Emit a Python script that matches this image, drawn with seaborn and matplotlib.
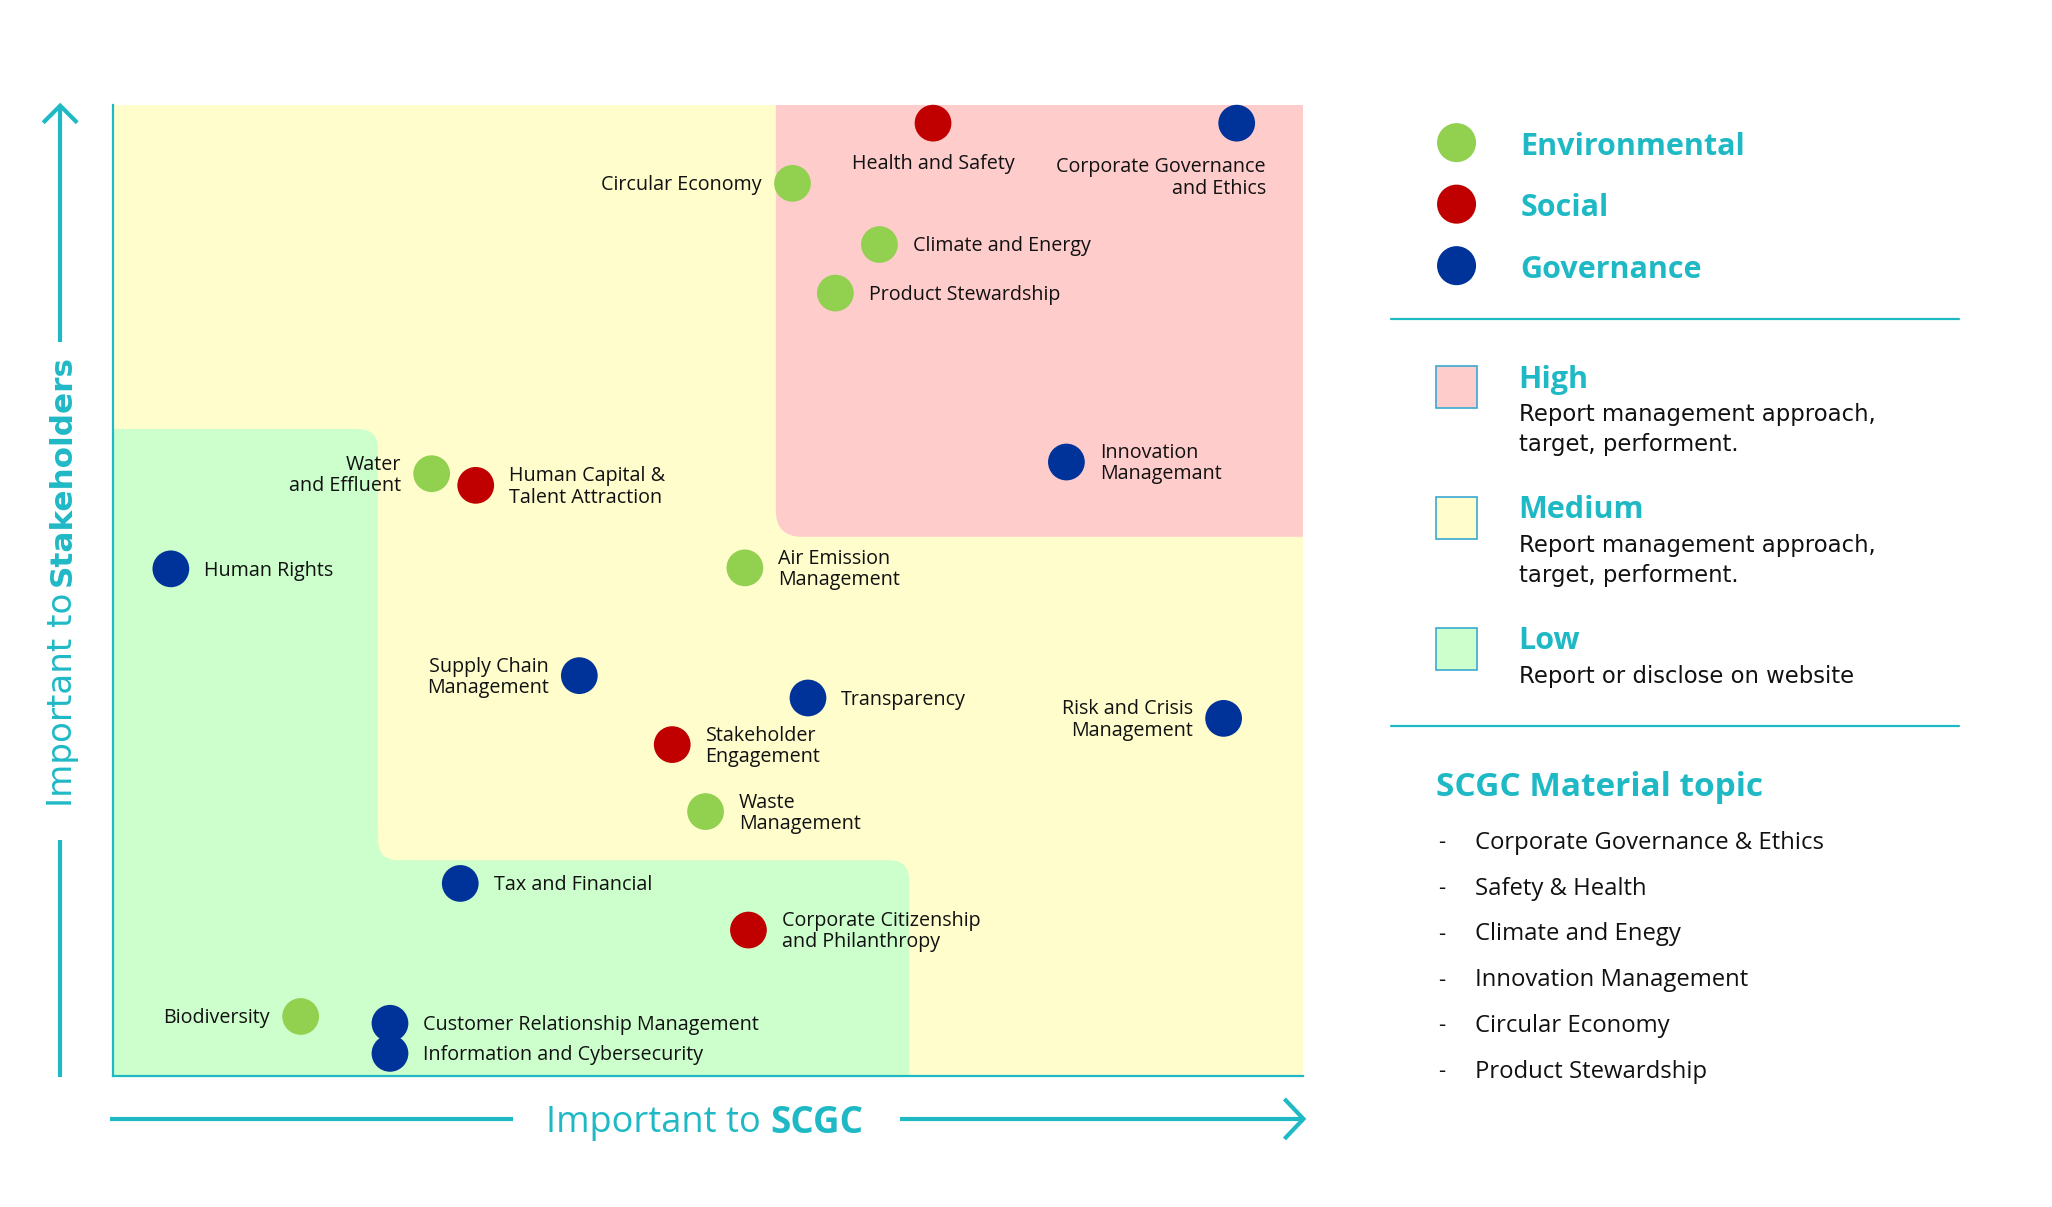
import matplotlib
matplotlib.use("Agg")
import matplotlib.pyplot as plt
from matplotlib.patches import FancyBboxPatch, Rectangle
import seaborn as sns
import pandas as pd

# ---------------- data ----------------
topics = ["Health and Safety", "Corporate Governance\nand Ethics", "Circular Economy",
          "Climate and Energy", "Product Stewardship", "Innovation\nManagemant",
          "Water\nand Effluent", "Human Capital &\nTalent Attraction", "Human Rights",
          "Air Emission\nManagement", "Supply Chain\nManagement", "Transparency",
          "Risk and Crisis\nManagement", "Stakeholder\nEngagement", "Waste\nManagement",
          "Tax and Financial", "Corporate Citizenship\nand Philanthropy", "Biodiversity",
          "Customer Relationship Management", "Information and Cybersecurity"]
pillar = ["Social", "Governance", "Environmental", "Environmental", "Environmental",
          "Governance", "Environmental", "Social", "Governance", "Environmental",
          "Governance", "Governance", "Governance", "Social", "Environmental",
          "Governance", "Social", "Environmental", "Governance", "Governance"]
importance_scgc = [6.89, 9.44, 5.71, 6.44, 6.07, 8.01, 2.68, 3.05, 0.49, 5.31,
                   3.92, 5.84, 9.33, 4.70, 4.98, 2.92, 5.34, 1.58, 2.33, 2.33]
importance_stakeholders = [9.81, 9.81, 9.19, 8.56, 8.06, 6.32, 6.20, 6.08, 5.22, 5.23,
                           4.12, 3.89, 3.68, 3.41, 2.72, 1.98, 1.50, 0.61, 0.54, 0.23]

pillars = ["Environmental", "Social", "Governance"]
levels = ["High", "Medium", "Low"]
level_desc = ["Report management approach,\ntarget, performent.",
              "Report management approach,\ntarget, performent.",
              "Report or disclose on website"]
material_title = "SCGC Material topic"
material_topics = ["Corporate Governance & Ethics", "Safety & Health", "Climate and Enegy",
                   "Innovation Management", "Circular Economy", "Product Stewardship"]

# materiality thresholds (in axis units 0-10)
high_x, high_y = 5.57, 5.55
low_a_x, low_a_y = 2.23, 6.66
low_b_x, low_b_y = 6.69, 2.22

# ---------------- style ----------------
label_side = {"Health and Safety": "below", "Corporate Governance\nand Ethics": "belowleft",
              "Circular Economy": "left", "Water\nand Effluent": "left",
              "Supply Chain\nManagement": "left", "Risk and Crisis\nManagement": "left",
              "Biodiversity": "left"}
colors = {"Environmental": "#92D050", "Social": "#C00000", "Governance": "#003399"}
level_colors = {"High": "#FFCCCC", "Medium": "#FFFDCC", "Low": "#CCFFCC"}
TEAL = "#1FB9C5"
W, H = 2052, 1207
S = W / 1568.0

sns.set_style("white")
plt.rcParams["font.family"] = ["Open Sans", "DejaVu Sans"]

fig = plt.figure(figsize=(W / 100, H / 100), dpi=100)
fig.patch.set_facecolor("white")
ax = fig.add_axes([112.5 / W, 1 - 1075.7 / H, (1303.4 - 112.5) / W, (1075.7 - 104.7) / H])
ax.set_xlim(0, 10)
ax.set_ylim(0, 10)
ax.set_facecolor(level_colors["Medium"])

asp = 1.2264


def rbox(x0, y0, w, h, color, rs):
    p = FancyBboxPatch((x0, y0), w, h, boxstyle=f"round,pad=0,rounding_size={rs}",
                       mutation_aspect=asp, facecolor=color, edgecolor="none", zorder=1)
    ax.add_patch(p)


rbox(-2, -2, low_a_x + 2, low_a_y + 2, level_colors["Low"], 0.17)
rbox(-2, -2, low_b_x + 2, low_b_y + 2, level_colors["Low"], 0.17)
ax.add_patch(Rectangle((low_a_x - 0.01, low_b_y - 0.01), 0.3, 0.35,
                       facecolor=level_colors["Low"], edgecolor="none", zorder=1))
rbox(low_a_x, low_b_y, 20, 20, level_colors["Medium"], 0.17)
rbox(high_x, high_y, 20, 20, level_colors["High"], 0.22)

df = pd.DataFrame({"topic": topics, "pillar": pillar,
                   "x": importance_scgc, "y": importance_stakeholders})
sns.scatterplot(data=df, x="x", y="y", hue="pillar", palette=colors, s=700,
                edgecolor="none", legend=False, ax=ax, zorder=3, clip_on=False)

for t, xv, yv in zip(topics, importance_scgc, importance_stakeholders):
    side = label_side.get(t, "right")
    if side == "right":
        kw = dict(xytext=(24, -1.2), ha="left", va="center")
    elif side == "left":
        kw = dict(xytext=(-22, -1.2), ha="right", va="center")
    elif side == "below":
        kw = dict(xytext=(0, -29.5), ha="center", va="center")
    else:
        kw = dict(xytext=(21, -39.5), ha="right", va="center")
    ax.annotate(t, (xv, yv), textcoords="offset points", fontsize=14.2,
                color="#111111", linespacing=1.08, zorder=4, **kw)

ax.set_xticks([])
ax.set_yticks([])
ax.set_xlabel("")
ax.set_ylabel("")
for s in ["top", "right"]:
    ax.spines[s].set_visible(False)
for s in ["left", "bottom"]:
    ax.spines[s].set_color(TEAL)
    ax.spines[s].set_linewidth(1.6)
    ax.spines[s].set_zorder(5)

# ---------------- overlay (arrows, titles, legend) ----------------
ov = fig.add_axes([0, 0, 1, 1], facecolor="none")
ov.set_xlim(0, W)
ov.set_ylim(H, 0)
ov.axis("off")


def P(v):
    return v * S


lw_arrow = 3
ax_x = P(46)
ov.plot([ax_x, ax_x], [P(80) + 1, P(261)], color=TEAL, lw=lw_arrow, solid_capstyle="butt")
ov.plot([ax_x - 17, ax_x, ax_x + 17], [P(80) + 18, P(80) + 1, P(80) + 18], color=TEAL,
        lw=lw_arrow, solid_joinstyle="miter", solid_capstyle="butt")
ov.plot([ax_x, ax_x], [P(642), P(823)], color=TEAL, lw=lw_arrow, solid_capstyle="butt")

ay = P(855)
ov.plot([P(84), P(392)], [ay, ay], color=TEAL, lw=lw_arrow, solid_capstyle="butt")
ov.plot([P(688), P(996)], [ay, ay], color=TEAL, lw=lw_arrow, solid_capstyle="butt")
ov.plot([P(996) - 19, P(996), P(996) - 19], [ay - 20, ay, ay + 20], color=TEAL,
        lw=lw_arrow, solid_joinstyle="miter", solid_capstyle="butt")

ov.text(P(581), ay + P(3), "Important to", ha="right", va="center", fontsize=26, color=TEAL)
ov.text(P(589), ay + P(3), "SCGC", ha="left", va="center", fontsize=26.5, color=TEAL,
        fontweight="bold")

ov.text(P(47.5), P(453), "Important to", rotation=90, ha="center", va="top", fontsize=24.6,
        color=TEAL, family=["DejaVu Sans"])
ov.text(P(47.5), P(448), "Stakeholders", rotation=90, ha="center", va="bottom", fontsize=22.4,
        color=TEAL, fontweight="bold", family=["DejaVu Sans"])

# legend: pillars
for i, p in enumerate(pillars):
    yy = P(109 + 47 * i)
    ov.scatter([P(1113)], [yy], s=790, color=colors[p], edgecolor="none")
    ov.text(P(1162), yy + P(3), p, ha="left", va="center", fontsize=22, fontweight="bold",
            color=TEAL)

ov.plot([P(1063), P(1497)], [P(244), P(244)], color=TEAL, lw=1.6)

for i, lv in enumerate(levels):
    top = 280 + 100 * i
    ov.add_patch(Rectangle((P(1097), P(top)), P(32), P(32), facecolor=level_colors[lv],
                           edgecolor="#3BA9D0", lw=1.2))
    ov.text(P(1160), P(top + 10), lv, ha="left", va="center", fontsize=22,
            fontweight="bold", color=TEAL)
    for j, line in enumerate(level_desc[i].split("\n")):
        ov.text(P(1161), P(top + 37 + 23 * j), line, ha="left", va="center", fontsize=16.4,
                color="#111111", family=["DejaVu Sans"])

ov.plot([P(1063), P(1497)], [P(555), P(555)], color=TEAL, lw=1.6)

ov.text(P(1097), P(602), material_title, ha="left", va="center", fontsize=24,
        fontweight="bold", color=TEAL)
for i, m in enumerate(material_topics):
    yy = P(644 + 35 * i)
    ov.text(P(1099), yy, "-", ha="left", va="center", fontsize=16, color="#111111")
    ov.text(P(1127), yy, m, ha="left", va="center", fontsize=17.2, color="#111111")

fig.savefig("out.png", dpi=100, facecolor="white")
